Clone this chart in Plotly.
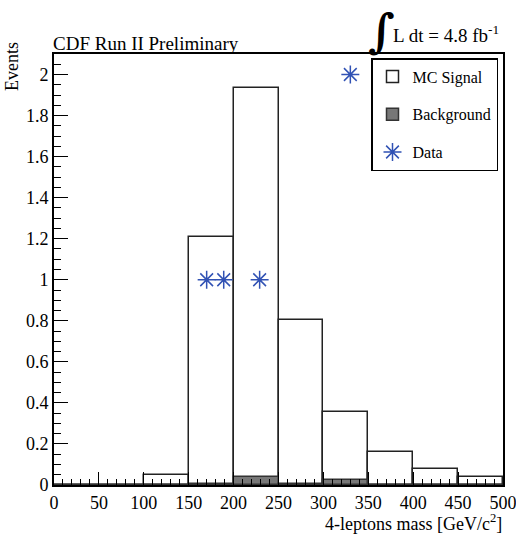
import plotly.graph_objects as go

bin_centers = [25, 75, 125, 175, 225, 275, 325, 375, 425, 475]
mc_signal = [0.0, 0.0, 0.047, 1.208, 1.935, 0.803, 0.354, 0.162, 0.076, 0.040]
background = [0.0, 0.0, 0.001, 0.006, 0.037, 0.003, 0.023, 0.002, 0.001, 0.001]
data_x = [170, 189, 229, 330]
data_y = [1, 1, 1, 2]
x_ticks = [0, 50, 100, 150, 200, 250, 300, 350, 400, 450, 500]
y_ticks = [0, 0.2, 0.4, 0.6, 0.8, 1, 1.2, 1.4, 1.6, 1.8, 2]

FONT = "Liberation Serif"
L, R, T, B = 54, 13, 54, 49
W, H = 516, 534
PW, PH = W - L - R, H - T - B


def px(x):
    return (x - L) / PW


def py(y):
    return (H - B - y) / PH


fig = go.Figure()
fig.add_trace(go.Bar(x=bin_centers, y=mc_signal, width=50, name="MC Signal",
                     marker=dict(color="white", line=dict(color="#222222", width=1.5)),
                     legendgroup="a"))
fig.add_trace(go.Bar(x=bin_centers, y=background, width=50, name="Background",
                     marker=dict(color="#777777", line=dict(color="#333333", width=1.5)),
                     legendgroup="b"))
fig.add_trace(go.Scatter(x=data_x, y=data_y, mode="markers", name="Data",
                         marker=dict(symbol="asterisk-open", size=15,
                                     line=dict(color="#3152b4", width=1.5), color="#3152b4"),
                         legendgroup="c"))

fig.update_layout(
    width=W, height=H, barmode="overlay", bargap=0,
    margin=dict(l=L, r=R, t=T, b=B, pad=0, autoexpand=False),
    paper_bgcolor="white", plot_bgcolor="white",
    font=dict(family=FONT, size=18, color="black"),
    showlegend=True,
    legend=dict(x=px(498), y=py(58), xanchor="right", yanchor="top",
                bordercolor="black", borderwidth=1.5, bgcolor="white",
                font=dict(family=FONT, size=16), traceorder="grouped",
                tracegroupgap=14, itemwidth=30),
    xaxis=dict(range=[0, 500], tickvals=x_ticks, ticks="inside", ticklen=13,
               tickwidth=1.2, tickcolor="black", showline=True, mirror=True,
               linecolor="black", linewidth=2, showgrid=False, zeroline=False,
               ticklabeloverflow="allow", automargin=False,
               minor=dict(dtick=10, ticks="inside", ticklen=6, tickcolor="black",
                          tickwidth=1.2, showgrid=False),
               tickfont=dict(family=FONT, size=18)),
    yaxis=dict(range=[0, 2.1], tickvals=y_ticks, ticks="inside", ticklen=14,
               tickwidth=1.2, tickcolor="black", showline=True, mirror=True,
               linecolor="black", linewidth=2, showgrid=False, zeroline=False,
               ticklabeloverflow="allow", automargin=False,
               minor=dict(dtick=0.05, ticks="inside", ticklen=7, tickcolor="black",
                          tickwidth=1.2, showgrid=False),
               tickfont=dict(family=FONT, size=18)),
)

ann = [
    dict(text="CDF Run II Preliminary", x=px(51), y=py(43), xanchor="left",
         yanchor="middle", font=dict(size=19)),
    dict(text="<b>∫</b>", x=px(381), y=py(31), xanchor="center", yanchor="middle",
         font=dict(size=46, family="DejaVu Serif")),
    dict(text="L dt = 4.8 fb<sup>-1</sup>", x=px(391), y=py(34), xanchor="left",
         yanchor="middle", font=dict(size=19)),
    dict(text="Events", x=px(12), y=py(67), xanchor="center", yanchor="middle",
         textangle=-90, font=dict(size=18)),
    dict(text="4-leptons mass [GeV/c<sup>2</sup>]", x=px(504), y=py(522),
         xanchor="right", yanchor="middle", font=dict(size=18)),
]
for a in ann:
    a.update(xref="paper", yref="paper", showarrow=False)
fig.update_layout(annotations=ann)

fig.write_html("out.html", config={"displayModeBar": False},
               post_script="document.body.style.margin='0px';document.body.style.overflow='hidden';")
